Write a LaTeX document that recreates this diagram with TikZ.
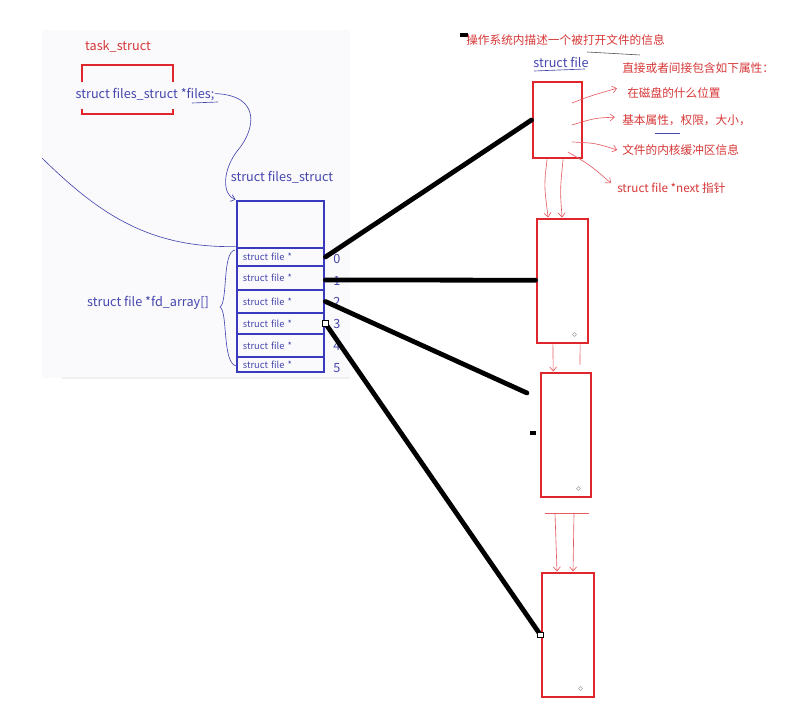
\documentclass[tikz,border=0pt]{standalone}
\usepackage{fontspec}
\setmainfont{Noto Sans CJK SC}
\usetikzlibrary{arrows.meta}
\definecolor{penblue}{RGB}{70,70,175}
\definecolor{boxblue}{RGB}{58,58,190}
\definecolor{penred}{RGB}{222,38,44}
\definecolor{inkred}{RGB}{215,55,55}
\definecolor{panel}{RGB}{250,250,252}

\begin{document}
\begin{tikzpicture}[x=0.025cm, y=-0.025cm,
  filebox/.style = {draw=penred, line width=2.1pt, inner sep=0},
  cell/.style = {draw=boxblue, line width=2pt, inner ysep=0, inner xsep=0.15cm,
    text width=1.875cm, align=left, minimum width=2.175cm,
    font=\fontsize{6.6}{7}\selectfont, text=penblue},
  wire/.style = {line width=3.4pt, black, line cap=round},
  note/.style = {inner sep=0, anchor=west, font=\fontsize{8.3}{10}\selectfont, text=inkred},
  code/.style = {inner sep=0, font=\fontsize{9}{10}\selectfont, text=penblue},
  idx/.style = {inner sep=0, font=\fontsize{9}{10}\selectfont, text=penblue},
  pen/.style = {penblue, line width=0.45pt},
  redpen/.style = {penred!75, line width=0.45pt},
  tip/.style = {-{Straight Barb[length=3pt,width=5pt]}},
  knob/.style = {draw, fill=white, line width=0.6pt, inner sep=0, minimum size=4pt}]
	\useasboundingbox[fill=white] (0,0) rectangle (801,721);
	\fill[panel] (42,30) rectangle (350,378);
	\draw[gray!12, line width=1.5pt] (62,378) -- (350,378);
	% task_struct
	\node[inner sep=0, font=\fontsize{9}{10}\selectfont, text=inkred] (task) at (118,46) {task\_struct};
	\draw[penred, line width=2pt] (82,82) -- (82,65) -- (173,65) -- (173,82);
	\draw[penred, line width=2pt] (82,109) -- (82,114) -- (173,114) -- (173,109);
	\node[code] (files) at (145,95) {struct files\_struct *files;};
	\draw[pen] (192,103) -- (218,102);
	% files_struct
	\node[code] (fslabel) at (282,177) {struct files\_struct};
	\node[cell, minimum height=1.175cm] (top) at (280.5,224.5) {};
	\node[cell, minimum height=0.45cm] (c0) at (280.5,257) {struct file *};
	\node[cell, minimum height=0.6cm] (c1) at (280.5,278) {struct file *};
	\node[cell, minimum height=0.575cm] (c2) at (280.5,301.5) {struct file *};
	\node[cell, minimum height=0.525cm] (c3) at (280.5,323.5) {struct file *};
	\node[cell, minimum height=0.575cm] (c4) at (280.5,345.5) {struct file *};
	\node[cell, minimum height=0.375cm] (c5) at (280.5,364.5) {struct file *};
	\node[idx] (i0) at (337,259) {0};
	\node[idx] (i1) at (337,281) {1};
	\node[idx] (i2) at (337,302) {2};
	\node[idx] (i3) at (337,324) {3};
	\node[idx] (i4) at (337,346) {4};
	\node[idx] (i5) at (337,368) {5};
	\draw[pen, tip] ([yshift=1pt]files.east) .. controls (262,95) and (255,130) .. (238,150)
	    .. controls (222,170) and (222,195) .. (top.north west);
	\coordinate (lhs) at (42,158);
	\draw[pen] (lhs) .. controls (100,215) and (150,248) .. (c0.north west);
	\node[code] (fdarr) at (148,303) {struct file *fd\_array[]};
	\draw[pen] (235,250) .. controls (222,252) and (228,302) .. (220,307)
	    .. controls (228,312) and (222,362) .. (236,366);
	% struct file chain
	\node[filebox, minimum width=1.225cm, minimum height=1.9cm] (f1) at (557.5,120) {};
	\node[filebox, minimum width=1.275cm, minimum height=3.1cm] (f2) at (562.5,281) {};
	\node[filebox, minimum width=1.25cm, minimum height=3.1cm] (f3) at (566,435) {};
	\node[filebox, minimum width=1.3cm, minimum height=3.1cm] (f4) at (568,635) {};
	\draw[gray!70, line width=0.4pt] ([xshift=-0.375cm, yshift=0.25cm]f2.south east) circle (1.4pt);
	\draw[gray!70, line width=0.4pt] ([xshift=-0.35cm, yshift=0.25cm]f3.south east) circle (1.4pt);
	\draw[gray!70, line width=0.4pt] ([xshift=-0.375cm, yshift=0.25cm]f4.south east) circle (1.4pt);
	\draw[redpen, tip] ([xshift=-0.26cm]f1.south) .. controls (544,185) .. ([xshift=-0.36cm]f2.north);
	\draw[redpen, tip] ([xshift=0.14cm]f1.south) .. controls (560,190) .. ([xshift=-0.01cm]f2.north);
	\draw[redpen, tip] ([xshift=-0.24cm]f2.south) -- ([xshift=-0.32cm]f3.north);
	\draw[redpen] ([xshift=0.44cm]f2.south) -- ([xshift=0.35cm, yshift=0.17cm]f3.north);
	\coordinate (bar) at (567,513);
	\draw[redpen] ([xshift=-0.55cm]bar) -- ([xshift=0.55cm]bar);
	\draw[redpen, tip] ([xshift=-0.3cm]bar) -- ([xshift=-0.275cm]f4.north);
	\draw[redpen, tip] ([xshift=0.175cm]bar) -- ([xshift=0.125cm]f4.north);
	% fd -> file
	\coordinate (e2) at (527,393);
	\draw[wire] (c0.east) -- (f1.west);
	\draw[wire] ([yshift=-0.05cm]c1.east) -- ([yshift=0.02cm]f2.west);
	\draw[wire] (c2.east) -- (e2);
	\draw[wire] (c3.east) -- (f4.west);
	\node[knob] (k3) at (c3.east) {};
	\node[knob] (k4) at (f4.west) {};
	\coordinate (m3) at (530,433);
	\coordinate (m3b) at (536,433);
	\draw[wire, line cap=butt] (m3) -- (m3b);
	\coordinate (m0) at (460,35);
	\coordinate (m0b) at (468,35);
	\draw[wire, line width=2.5pt, line cap=butt] (m0) -- (m0b);
	% notes
	\node[note] (title) at (466,40) {操作系统内描述一个被打开文件的信息};
	\draw[black!70, line width=0.4pt] (587,52) -- (640,55);
	\node[code] (sfile) at (561,62) {struct file};
	\draw[pen] (534,71) -- (585,69);
	\node[note] (attrs) at (622,68) {直接或者间接包含如下属性：};
	\node[note] (disk) at (627,93) {在磁盘的什么位置};
	\node[note] (basic) at (622,120) {基本属性，权限，大小，};
	\draw[pen] (655,133) -- (680,133);
	\node[note] (cache) at (622,150) {文件的内核缓冲区信息};
	\node[note] (next) at (617,188) {struct file *next 指针};
	\draw[redpen, tip] ([xshift=0.36cm, yshift=0.425cm]f1.center) .. controls (590,96) .. ([xshift=-0.25cm, yshift=0.12cm]disk.west);
	\draw[redpen, tip] ([xshift=0.36cm, yshift=-0.125cm]f1.center) .. controls (595,118) .. ([xshift=-0.18cm, yshift=0.07cm]basic.west);
	\draw[redpen, tip] ([xshift=0.36cm, yshift=-0.55cm]f1.center) .. controls (595,143) .. ([xshift=-0.12cm]cache.west);
	\draw[redpen, tip] ([xshift=0.26cm, yshift=-0.8cm]f1.center) .. controls (590,165) .. ([xshift=-0.15cm, yshift=0.12cm]next.west);
\end{tikzpicture}
\end{document}
